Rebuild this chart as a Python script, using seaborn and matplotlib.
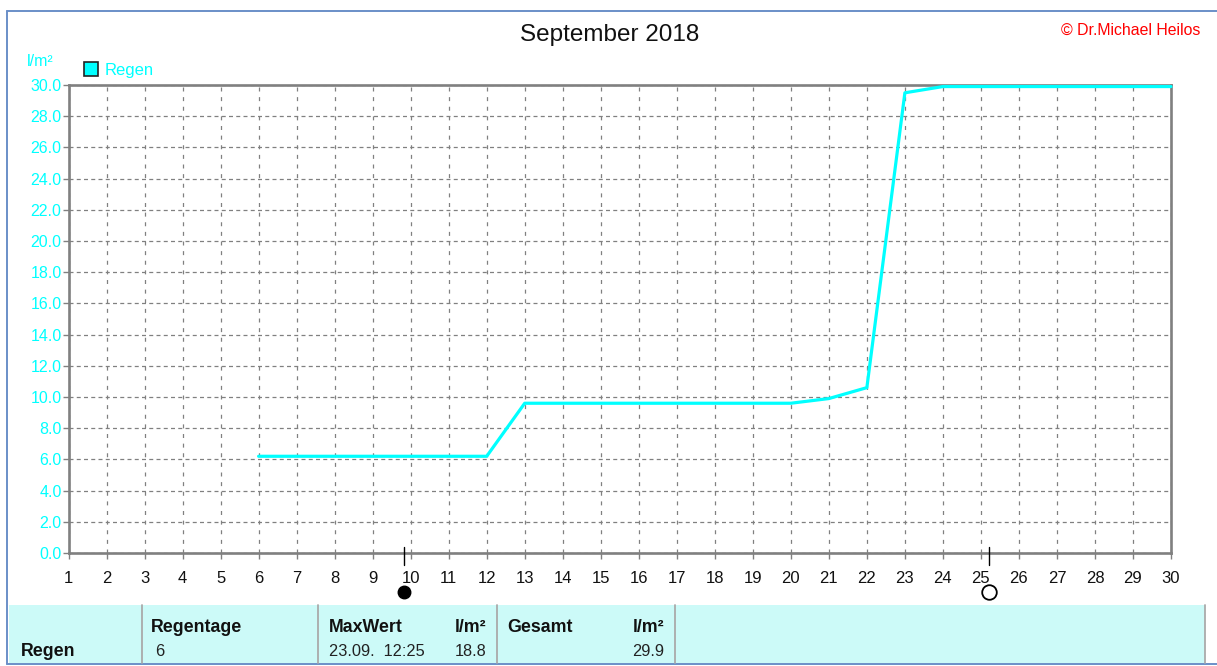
import matplotlib
matplotlib.use('Agg')
import matplotlib.pyplot as plt
from matplotlib.patches import Rectangle
from matplotlib.lines import Line2D
import numpy as np
import pandas as pd
import seaborn as sns

days = [6, 12, 13, 20, 21, 22, 23, 24, 30]
regen = [6.2, 6.2, 9.6, 9.6, 9.9, 10.6, 29.5, 29.9, 29.9]
x_ticks = list(range(1, 31))
y_ticks = [0, 2, 4, 6, 8, 10, 12, 14, 16, 18, 20, 22, 24, 26, 28, 30]
new_moon = 9.82
full_moon = 25.2

W, H = 1217, 666
CYAN = '#00FFFF'
GREY = '#808080'
BLUE = '#6A8FC8'
PANEL = '#CCFAF8'

sns.set_theme(style='white')
plt.rcParams['font.family'] = ['Liberation Sans', 'DejaVu Sans']


def fx(px):
    return px / W


def fy(py):
    return 1 - py / H


def ftext(px, py, s, **kw):
    kw.setdefault('fontsize', 11.8)
    kw.setdefault('va', 'center')
    fig.text(fx(px), fy(py), s, **kw)


def hline(py, x0, x1, color, lw):
    fig.add_artist(Line2D([fx(x0), fx(x1)], [fy(py), fy(py)], color=color, lw=lw))


def vline(px, y0, y1, color, lw):
    fig.add_artist(Line2D([fx(px), fx(px)], [fy(y0), fy(y1)], color=color, lw=lw))


fig = plt.figure(figsize=(W / 100, H / 100), dpi=100, facecolor='white')
ax = fig.add_axes([fx(68.5), fy(553), fx(1171 - 68.5), (553 - 85) / H])

df = pd.DataFrame({'day': days, 'regen': regen})
sns.lineplot(data=df, x='day', y='regen', color=CYAN, lw=2.3, ax=ax, zorder=5, clip_on=False)

ax.set_xlim(1, 30)
ax.set_ylim(0, 30)
ax.set_xticks(x_ticks)
ax.set_yticks(y_ticks)
ax.set_yticklabels([f'{v:.1f}' for v in y_ticks])
ax.set_xlabel('')
ax.set_ylabel('')
# vertical grid dashes are spaced wider than the horizontal ones
ax.grid(True, axis='x', color=GREY, lw=0.9, linestyle=(0, (3.2, 4.5)))
ax.grid(True, axis='y', color=GREY, lw=0.9, linestyle=(0, (3.2, 2.6)))
ax.set_axisbelow(True)
for s in ax.spines.values():
    s.set_color(GREY)
    s.set_linewidth(1.9)
ax.tick_params(axis='x', length=4, width=1, color=GREY, labelcolor='#111111', labelsize=12, pad=9, bottom=True)
ax.tick_params(axis='y', length=4, width=1, color=GREY, labelcolor=CYAN, labelsize=11.5, pad=1, left=True)

# moon phases below the x axis
trans = ax.get_xaxis_transform()
for d in [new_moon, full_moon]:
    ax.plot([d, d], [-12 / 468, 6 / 468], color='black', lw=1.0, transform=trans, clip_on=False, zorder=6)
ax.plot([new_moon], [-38.5 / 468], 'o', ms=9, mfc='black', mec='black', transform=trans, clip_on=False)
ax.plot([full_moon], [-38.5 / 468], 'o', ms=10.5, mfc='white', mec='black', mew=1.3, transform=trans, clip_on=False)

# outer frame
hline(11, 7, W, BLUE, 1.4)
hline(664, 7, W, BLUE, 1.4)
vline(7, 11, 664, BLUE, 1.4)

# header texts
ftext(610, 35, 'September 2018', fontsize=17.5, ha='center', color='#111111')
ftext(1200, 30, '© Dr.Michael Heilos', fontsize=11.4, ha='right', color='#FF0000')
ftext(27, 61, 'l/m²', fontsize=11.5, color=CYAN)
ftext(105, 70, 'Regen', fontsize=12, color=CYAN)
fig.add_artist(Rectangle((fx(84), fy(76)), 14 / W, 14 / H, transform=fig.transFigure,
                         facecolor=CYAN, edgecolor='#222222', lw=1.2))

# table panel
fig.add_artist(Rectangle((fx(9), fy(663)), (1205 - 9) / W, 58 / H, transform=fig.transFigure,
                         facecolor=PANEL, edgecolor='none'))
for px in [141.5, 318, 496.5, 675, 1205]:
    vline(px, 605, 663, '#AAAAAA', 1.3)

ftext(21, 652, 'Regen', fontsize=12.8, fontweight='bold', color='#111111')
ftext(151, 627, 'Regentage', fontsize=12.8, fontweight='bold', color='#111111')
ftext(155, 651, '6', color='#222222')
ftext(329, 627, 'MaxWert', fontsize=12.8, fontweight='bold', color='#111111')
ftext(329, 651, '23.09.  12:25', color='#222222')
ftext(486, 627, 'l/m²', ha='right', fontsize=12.8, fontweight='bold', color='#111111')
ftext(486, 651, '18.8', ha='right', color='#222222')
ftext(507, 627, 'Gesamt', fontsize=12.8, fontweight='bold', color='#111111')
ftext(664, 627, 'l/m²', ha='right', fontsize=12.8, fontweight='bold', color='#111111')
ftext(664, 651, '29.9', ha='right', color='#222222')

fig.savefig('out.png', dpi=100)
